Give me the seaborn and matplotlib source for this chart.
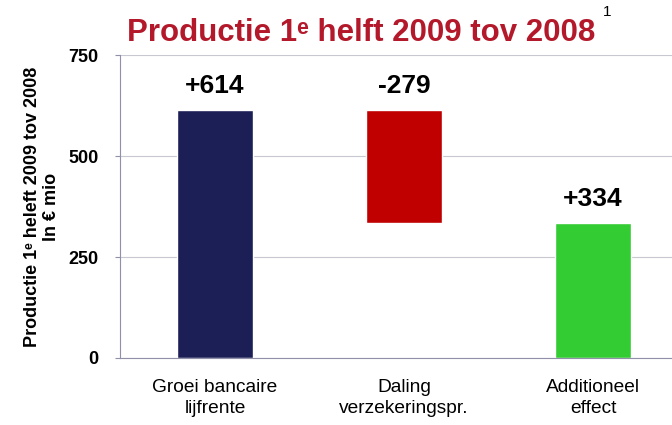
import numpy as np
import pandas as pd
import matplotlib
matplotlib.use("Agg")
import matplotlib.pyplot as plt
import seaborn as sns

# Data
categories = ["Groei bancaire\nlijfrente", "Daling\nverzekeringspr.", "Additioneel\neffect"]
changes = [614, -279, 334]
labels = ["+614", "-279", "+334"]
colors = ["#1b1f56", "#c00000", "#33cc33"]

# waterfall: bar bottoms and heights
bottoms = [0, changes[0] + changes[1], 0]
heights = [changes[0], -changes[1], changes[2]]
tops = [b + h for b, h in zip(bottoms, heights)]

df = pd.DataFrame({"cat": categories, "height": heights, "bottom": bottoms})

sns.set_style("white")
plt.rcParams["font.family"] = ["Liberation Sans", "DejaVu Sans"]
plt.rcParams["text.color"] = "black"
plt.rcParams["axes.labelcolor"] = "black"
plt.rcParams["xtick.color"] = "black"
plt.rcParams["ytick.color"] = "black"

fig = plt.figure(figsize=(6.72, 4.25), dpi=100)
ax = fig.add_axes([120 / 672, 1 - 358 / 425, 552 / 672, 303 / 425])

sns.barplot(data=df, x="cat", y="height", hue="cat", palette=colors,
            width=0.40, legend=False, ax=ax, saturation=1)
# shift bars up by their bottoms (waterfall)
for patch, b in zip(ax.patches, bottoms):
    patch.set_y(b)

ax.set_ylim(0, 750)
ax.set_xlim(-0.503, 2.418)
ax.set_yticks([0, 250, 500, 750])
ax.set_yticklabels(["0", "250", "500", "750"], fontsize=13, fontweight="bold")
ax.yaxis.grid(True, color="#c8c8d0", linewidth=0.8)
ax.set_axisbelow(True)
ax.tick_params(axis="y", length=3.6, color="#9090a8", width=0.8, pad=12, direction="out", left=True)
ax.tick_params(axis="x", length=0, pad=15, labelsize=13.8)
for t in ax.get_xticklabels():
    t.set_linespacing(1.3)
for s in ["top", "right"]:
    ax.spines[s].set_visible(False)
ax.spines["left"].set_color("#9090a8")
ax.spines["bottom"].set_color("#9090a8")
ax.set_xlabel("")
ax.set_ylabel("Productie 1\u1d49 heleft 2009 tov 2008\nIn € mio",
              fontsize=13, fontweight="bold", labelpad=6, linespacing=1.1)

for i, (t, lab) in enumerate(zip(tops, labels)):
    ax.text(i, t + 17 / 0.404, lab, ha="center", va="baseline",
            fontsize=19, fontweight="bold", color="black")

fig.text(361 / 672, 1 - 33 / 425, "Productie 1\u1d49 helft 2009 tov 2008",
         ha="center", va="center", fontsize=22.5, fontweight="bold", color="#b3192b")
fig.text(607 / 672, 1 - 12 / 425, "1", ha="center", va="center", fontsize=11, color="black")

fig.savefig("out.png", dpi=100)
